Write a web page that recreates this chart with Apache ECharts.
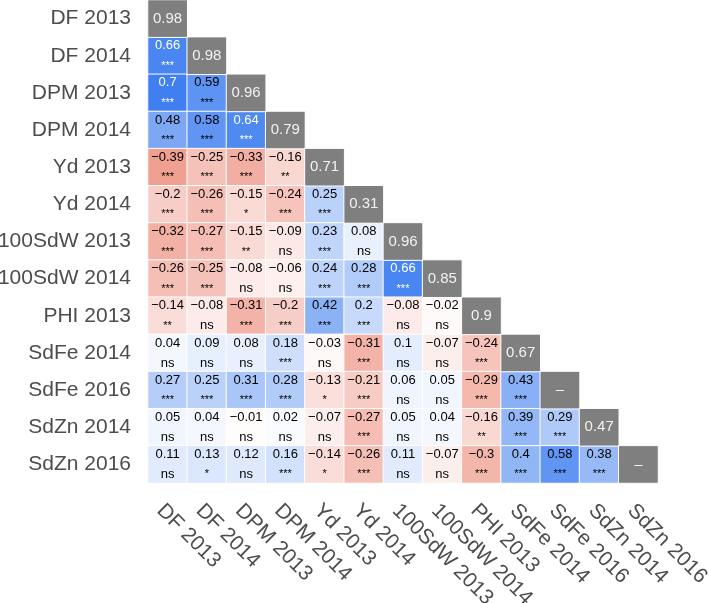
<!DOCTYPE html>
<html><head><meta charset="utf-8">
<script src="https://cdn.jsdelivr.net/npm/echarts@6/dist/echarts.min.js"></script>
<style>html,body{margin:0;padding:0;background:#fff}#c{width:709px;height:603px}</style>
</head><body><div id="c"></div>
<script>
const traits = ['DF 2013','DF 2014','DPM 2013','DPM 2014','Yd 2013','Yd 2014','100SdW 2013','100SdW 2014','PHI 2013','SdFe 2014','SdFe 2016','SdZn 2014','SdZn 2016'];
const diagValues = [0.98,0.98,0.96,0.79,0.71,0.31,0.96,0.85,0.9,0.67,null,0.47,null];
// lower-triangle rows (row i has i values, columns 0..i-1)
const corrRows = [
  [],
  [0.66],
  [0.7,0.59],
  [0.48,0.58,0.64],
  [-0.39,-0.25,-0.33,-0.16],
  [-0.2,-0.26,-0.15,-0.24,0.25],
  [-0.32,-0.27,-0.15,-0.09,0.23,0.08],
  [-0.26,-0.25,-0.08,-0.06,0.24,0.28,0.66],
  [-0.14,-0.08,-0.31,-0.2,0.42,0.2,-0.08,-0.02],
  [0.04,0.09,0.08,0.18,-0.03,-0.31,0.1,-0.07,-0.24],
  [0.27,0.25,0.31,0.28,-0.13,-0.21,0.06,0.05,-0.29,0.43],
  [0.05,0.04,-0.01,0.02,-0.07,-0.27,0.05,0.04,-0.16,0.39,0.29],
  [0.11,0.13,0.12,0.16,-0.14,-0.26,0.11,-0.07,-0.3,0.4,0.58,0.38]
];
const sigRows = [
  [],
  ['***'],
  ['***','***'],
  ['***','***','***'],
  ['***','***','***','**'],
  ['***','***','*','***','***'],
  ['***','***','**','ns','***','ns'],
  ['***','***','ns','ns','***','***','***'],
  ['**','ns','***','***','***','***','ns','ns'],
  ['ns','ns','ns','***','ns','***','ns','ns','***'],
  ['***','***','***','***','*','***','ns','ns','***','***'],
  ['ns','ns','ns','ns','ns','***','ns','ns','**','***','***'],
  ['ns','*','ns','***','*','***','ns','ns','***','***','***','***']
];

const fmt = v => (v < 0 ? '\u2212' : '') + String(Math.abs(v));
const corrData = [];
corrRows.forEach((row, i) => row.forEach((v, j) => {
  corrData.push({value: [j, i, v], sig: sigRows[i][j]});
}));
const diagData = diagValues.map((v, i) => ({value: [i, i, 1], txt: v == null ? '\u2013' : String(v)}));

const font = '"Liberation Sans", Arial, Helvetica, sans-serif';
const chart = echarts.init(document.getElementById('c'), null, {renderer: 'canvas'});
chart.setOption({
  animation: false,
  grid: {left: 148, top: 0, width: 510, height: 483, containLabel: false, outerBoundsMode: 'none'},
  xAxis: {
    type: 'category', data: traits, position: 'bottom',
    axisLine: {show: false}, axisTick: {show: false}, splitLine: {show: false},
    axisLabel: {rotate: -45, fontSize: 21, color: '#4d4d4d', fontFamily: font, margin: 17, interval: 0,
      hideOverlap: false, verticalAlign: 'top'}
  },
  yAxis: {
    type: 'category', data: traits, inverse: true,
    axisLine: {show: false}, axisTick: {show: false}, splitLine: {show: false},
    axisLabel: {fontSize: 21, color: '#4d4d4d', fontFamily: font, margin: 17, interval: 0, hideOverlap: false}
  },
  visualMap: {
    show: false, seriesIndex: 0, min: -0.7, max: 0.7, dimension: 2,
    inRange: {color: ['#e4543a', '#ffffff', '#3f7ff0']}
  },
  series: [
    {
      type: 'heatmap', data: corrData,
      itemStyle: {borderColor: '#ffffff', borderWidth: 1},
      label: {
        show: true, fontFamily: font,
        formatter: p => {
          const v = p.data.value[2];
          const w = Math.abs(v) >= 0.6;
          const s = p.data.sig;
          const sk = s === 'ns' ? (w ? 'wn' : 'bn') : (w ? 'ws' : 'bs');
          return '{' + (w ? 'wv' : 'bv') + '|' + fmt(v) + '}\n{' + sk + '|' + s + '}';
        },
        rich: {
          bv: {fontSize: 13, color: '#000000', fontFamily: font, lineHeight: 20},
          wv: {fontSize: 13, color: '#ffffff', fontFamily: font, lineHeight: 20},
          bs: {fontSize: 11, color: '#000000', fontFamily: font, lineHeight: 20},
          ws: {fontSize: 11, color: '#ffffff', fontFamily: font, lineHeight: 20},
          bn: {fontSize: 13, color: '#000000', fontFamily: font, lineHeight: 20},
          wn: {fontSize: 13, color: '#ffffff', fontFamily: font, lineHeight: 20}
        }
      },
      emphasis: {disabled: true}
    },
    {
      type: 'heatmap', data: diagData,
      itemStyle: {color: '#7f7f7f', borderColor: '#ffffff', borderWidth: 1},
      label: {
        show: true, fontFamily: font, fontSize: 15, color: '#f2f2f2',
        formatter: p => p.data.txt
      },
      emphasis: {disabled: true}
    }
  ]
});
</script></body></html>
